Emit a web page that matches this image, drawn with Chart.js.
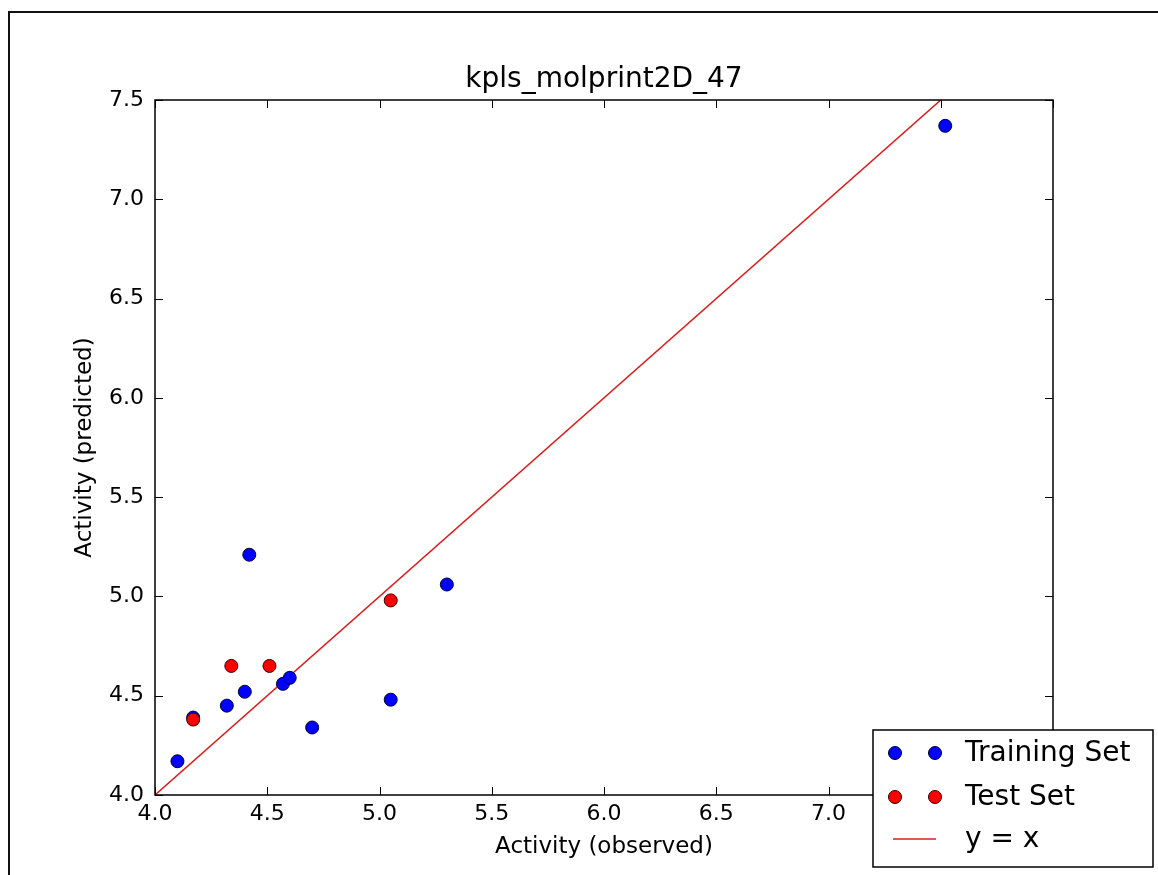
<!DOCTYPE html>
<html>
<head>
<meta charset="utf-8">
<script src="https://cdn.jsdelivr.net/npm/chart.js@4.4.1/dist/chart.umd.min.js"></script>
<style>
html,body{margin:0;padding:0;background:#fff;}
canvas{display:block;}
</style>
</head>
<body>
<canvas id="c" width="1158" height="875"></canvas>
<script>
const chartTitle = 'kpls_molprint2D_47';
const xLabel = 'Activity (observed)';
const yLabel = 'Activity (predicted)';
const seriesNames = ['Training Set', 'Test Set', 'y = x'];

const trainObserved  = [4.10, 4.32, 4.40, 4.42, 4.57, 4.60, 4.70, 5.05, 5.30, 7.52, 4.17];
const trainPredicted = [4.17, 4.45, 4.52, 5.21, 4.56, 4.59, 4.34, 4.48, 5.06, 7.37, 4.39];
const testObserved   = [4.17, 4.34, 4.51, 5.05];
const testPredicted  = [4.38, 4.65, 4.65, 4.98];
const identityLine   = [4.0, 8.0];

const xMin = 4.0, xMax = 8.0, yMin = 4.0, yMax = 7.5, tickStep = 0.5;

const toPoints = (xs, ys) => xs.map((x, i) => ({x: x, y: ys[i]}));
const FONT = 'DejaVu Sans';

const framePlugin = {
  id: 'frame',
  beforeDraw(chart) {
    const ctx = chart.ctx;
    ctx.save();
    ctx.fillStyle = '#fff';
    ctx.fillRect(0, 0, chart.width, chart.height);
    ctx.restore();
  },
  afterDatasetsDraw(chart) {
    const {ctx, chartArea: a, scales} = chart;
    ctx.save();
    ctx.strokeStyle = '#000';
    ctx.lineWidth = 1;
    const L = 8;
    ctx.beginPath();
    scales.x.ticks.forEach(t => {
      const px = Math.round(scales.x.getPixelForValue(t.value)) + 0.5;
      ctx.moveTo(px, a.bottom); ctx.lineTo(px, a.bottom - L);
      ctx.moveTo(px, a.top); ctx.lineTo(px, a.top + L);
    });
    scales.y.ticks.forEach(t => {
      const py = Math.round(scales.y.getPixelForValue(t.value)) + 0.5;
      ctx.moveTo(a.left, py); ctx.lineTo(a.left + L, py);
      ctx.moveTo(a.right, py); ctx.lineTo(a.right - L, py);
    });
    ctx.stroke();
    ctx.lineWidth = 1.5;
    ctx.strokeRect(a.left, a.top, a.right - a.left, a.bottom - a.top);
    ctx.restore();
  },
  afterDraw(chart) {
    const ctx = chart.ctx;
    ctx.save();
    // outer page frame
    ctx.strokeStyle = '#111';
    ctx.lineWidth = 2;
    ctx.beginPath();
    ctx.moveTo(9, chart.height); ctx.lineTo(9, 12); ctx.lineTo(chart.width, 12);
    ctx.stroke();
    // legend
    const bx = 873, by = 730, bw = 280, bh = 137;
    ctx.fillStyle = '#fff';
    ctx.fillRect(bx, by, bw, bh);
    ctx.strokeStyle = '#000';
    ctx.lineWidth = 1.5;
    ctx.strokeRect(bx, by, bw, bh);
    const ds = chart.data.datasets;
    const rows = [753, 797, 839];
    ctx.font = '28px "' + FONT + '"';
    ctx.textBaseline = 'middle';
    ctx.textAlign = 'left';
    for (let i = 0; i < 3; i++) {
      const d = ds[i];
      const y = rows[i];
      if (i < 2) {
        [895, 935].forEach(mx => {
          ctx.beginPath();
          ctx.arc(mx, y, 6.5, 0, Math.PI * 2);
          ctx.fillStyle = d.backgroundColor;
          ctx.fill();
          ctx.lineWidth = 1;
          ctx.strokeStyle = d.borderColor;
          ctx.stroke();
        });
      } else {
        ctx.beginPath();
        ctx.moveTo(893, y); ctx.lineTo(936, y);
        ctx.strokeStyle = d.borderColor;
        ctx.lineWidth = 1.5;
        ctx.stroke();
      }
      ctx.fillStyle = '#000';
      ctx.fillText(d.label, 965, y + 1);
    }
    ctx.restore();
  }
};

new Chart(document.getElementById('c'), {
  type: 'scatter',
  data: {
    datasets: [
      {
        label: seriesNames[0],
        data: toPoints(trainObserved, trainPredicted),
        backgroundColor: '#0000ff',
        borderColor: '#000033',
        borderWidth: 1,
        pointRadius: 6.5,
        order: 2
      },
      {
        label: seriesNames[1],
        data: toPoints(testObserved, testPredicted),
        backgroundColor: '#ff0000',
        borderColor: '#330000',
        borderWidth: 1,
        pointRadius: 6.5,
        order: 1
      },
      {
        label: seriesNames[2],
        type: 'line',
        data: toPoints(identityLine, identityLine),
        borderColor: '#e01b1b',
        backgroundColor: '#e01b1b',
        borderWidth: 1.5,
        pointRadius: 0,
        fill: false,
        order: 3
      }
    ]
  },
  options: {
    responsive: false,
    animation: false,
    devicePixelRatio: 1,
    layout: {padding: {left: 0, top: 0, right: 105, bottom: 0}},
    plugins: {
      legend: {display: false},
      tooltip: {enabled: false},
      title: {display: false}
    },
    scales: {
      x: {
        type: 'linear',
        min: xMin, max: xMax,
        afterFit(s) { s.height = 80; },
        grid: {display: false, drawTicks: false},
        border: {display: false},
        ticks: {
          stepSize: tickStep,
          color: '#000',
          padding: 6,
          maxRotation: 0,
          font: {family: FONT, size: 22},
          callback: v => Number(v).toFixed(1)
        },
        title: {
          display: true,
          text: xLabel,
          color: '#000',
          font: {family: FONT, size: 23},
          padding: {top: 0, bottom: 14}
        }
      },
      xTop: {
        type: 'linear',
        position: 'top',
        min: xMin, max: xMax,
        afterFit(s) { s.height = 100; },
        grid: {display: false, drawTicks: false},
        border: {display: false},
        ticks: {display: false},
        title: {
          display: true,
          text: chartTitle,
          color: '#000',
          font: {family: FONT, size: 28},
          padding: {top: 63, bottom: 0}
        }
      },
      y: {
        type: 'linear',
        min: yMin, max: yMax,
        afterFit(s) { s.width = 155; },
        grid: {display: false, drawTicks: false},
        border: {display: false},
        ticks: {
          stepSize: tickStep,
          color: '#000',
          padding: 11,
          font: {family: FONT, size: 22},
          callback: v => Number(v).toFixed(1)
        },
        title: {
          display: true,
          text: yLabel,
          color: '#000',
          font: {family: FONT, size: 23},
          padding: {top: 71, bottom: 0}
        }
      }
    }
  },
  plugins: [framePlugin]
});
</script>
</body>
</html>
